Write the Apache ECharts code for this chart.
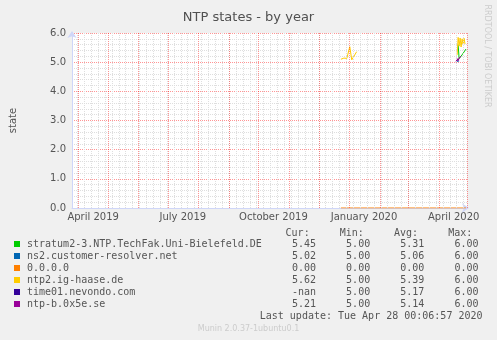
<!DOCTYPE html>
<html><head><meta charset="utf-8">
<script src="https://cdn.jsdelivr.net/npm/echarts@6/dist/echarts.min.js"></script>
<style>html,body{margin:0;padding:0;background:#f0f0f0;}#c{width:497px;height:340px;}</style>
</head><body><div id="c"></div>
<script>
// ---- data ----
const seriesNames = ['stratum2-3.NTP.TechFak.Uni-Bielefeld.DE','ns2.customer-resolver.net','0.0.0.0','ntp2.ig-haase.de','time01.nevondo.com','ntp-b.0x5e.se'];
const curValues = ['5.45','5.02','0.00','5.62','-nan','5.21'];
const minValues = ['5.00','5.00','0.00','5.00','5.00','5.00'];
const avgValues = ['5.31','5.06','0.00','5.39','5.17','5.14'];
const maxValues = ['6.00','6.00','0.00','6.00','6.00','6.00'];

const stratumData = [['2020-04-20',5.60],['2020-04-21',5.12],['2020-04-22',5.18],['2020-04-23',5.16],['2020-04-24',5.25],['2020-04-25',5.30],['2020-04-26',5.35],['2020-04-27',5.36],['2020-04-28',5.45]];
const ns2Data = [['2020-04-18',5.02],['2020-04-19',5.05],['2020-04-20',5.02],['2020-04-21',5.04]];
const zeroData = [['2019-12-23',0.00],['2020-04-28',0.00]];
const haaseData = [['2019-12-23',5.10],['2019-12-24',5.12],['2019-12-25',5.11],['2019-12-26',5.14],['2019-12-27',5.14],['2019-12-28',5.12],['2019-12-29',5.13],['2019-12-30',5.12],['2019-12-31',5.10],['2020-01-01',5.53],['2020-01-03',5.08],['2020-01-08',5.36],
  [null,null],
  ['2020-04-19',5.25],['2020-04-20',5.85],['2020-04-21',5.55],['2020-04-22',5.83],['2020-04-23',5.52],['2020-04-24',5.80],['2020-04-25',5.62],['2020-04-26',5.82],['2020-04-27',5.62]];
const nevondoData = [['2020-04-18',5.00],['2020-04-19',5.08],['2020-04-20',5.02],['2020-04-21',5.10]];
const ntpbData = [['2020-04-18',5.02],['2020-04-19',5.12],['2020-04-20',5.05],['2020-04-21',5.15],['2020-04-22',5.12],['2020-04-23',5.20]];

const xTickLabels = ['April 2019','July 2019','October 2019','January 2020','April 2020'];
const xTickDates = ['2019-04-16','2019-07-16','2019-10-16','2020-01-16','2020-04-16'];
const xStart = '2019-03-25', xEnd = '2020-04-29';
const lastUpdate = 'Last update: Tue Apr 28 00:06:57 2020';
const footer = 'Munin 2.0.37-1ubuntu0.1';
const watermark = 'RRDTOOL / TOBI OETIKER';
const title = 'NTP states - by year';
const yName = 'state';

// ---- helpers ----
function ts(s, h){ const p = s.split('-').map(Number); return Date.UTC(p[0], p[1]-1, p[2], h===undefined?12:h); }
function conv(arr){ return arr.map(d => d[0]===null ? [null,null] : [ts(d[0]), d[1]]); }
const DAY = 86400000;
const xMin = ts(xStart, 12), xMax = ts(xEnd, 12);
const xTickValues = xTickDates.map(d => ts(d, 0));

// month starts & weekly (Sunday) grid
const monthLines = [];
for (let y = 2019, m = 3; ; ) { const t = Date.UTC(y, m, 1); if (t > xMax) break; if (t >= xMin) monthLines.push(t); m++; if (m > 11) { m = 0; y++; } }
monthLines.push(xMax);
const weekLines = [];
for (let t = Date.UTC(2019, 2, 31); t <= xMax; t += 7*DAY) if (t >= xMin) weekLines.push(t);

const colors = ['#00CC00','#0066B3','#FF8000','#FFCC00','#330099','#990099'];
const datasets = [stratumData, ns2Data, zeroData, haaseData, nevondoData, ntpbData];

const MONO = 'DejaVu Sans Mono', SANS = 'DejaVu Sans';
const redGrid = 'rgba(255,0,0,0.42)', greyGrid = '#dedede';
const FS = 10;

function row(i){
  return seriesNames[i].padEnd(44) + curValues[i].padStart(4) + minValues[i].padStart(9) + avgValues[i].padStart(9) + maxValues[i].padStart(9);
}
const header = 'Cur:'.padStart(47) + 'Min:'.padStart(9) + 'Avg:'.padStart(9) + 'Max:'.padStart(9);

const series = [
  { type:'line', name:'_weeks', data:[], silent:true, z:1,
    markLine:{ symbol:'none', silent:true, animation:false, label:{show:false}, emphasis:{disabled:true},
      lineStyle:{color:greyGrid, type:[1,1], width:1}, data: weekLines.map(t=>({xAxis:t})) } },
  { type:'line', name:'_months', data:[], silent:true, z:1,
    markLine:{ symbol:'none', silent:true, animation:false, label:{show:false}, emphasis:{disabled:true},
      lineStyle:{color:redGrid, type:[1,1], width:1}, data: monthLines.map(t=>({xAxis:t})) } }
];
seriesNames.forEach((n, i) => series.push({
  type:'line', name:n, data: conv(datasets[i]), showSymbol:false, z:3,
  color: colors[i], lineStyle:{width:1, color:colors[i]}, connectNulls:false, animation:false
}));

const chart = echarts.init(document.getElementById('c'), null, {renderer:'canvas'});
chart.setOption({
  backgroundColor:'#F0F0F0',
  animation:false,
  title:{ text:title, left:'center', top:6, textStyle:{fontFamily:SANS, fontSize:13, fontWeight:'normal', color:'#505050'} },
  grid:{ left:66, top:33, width:401, height:175, show:true, backgroundColor:'#ffffff', borderWidth:0 },
  xAxis:{ type:'value', min:xMin, max:xMax,
    axisLine:{show:true, lineStyle:{color:'#CFD6F8', width:1}, symbol:['none','arrow'], symbolSize:[7,7], symbolOffset:[0,2]},
    axisTick:{show:false}, splitLine:{show:false},
    axisLabel:{ customValues:xTickValues, formatter:v => xTickLabels[xTickValues.indexOf(v)] || '', fontFamily:SANS, fontSize:10, color:'#555', margin:4 } },
  yAxis:{ type:'value', min:0, max:6, interval:1, name:yName, nameLocation:'middle', nameRotate:90, nameGap:54,
    nameTextStyle:{fontFamily:SANS, fontSize:10, color:'#555'},
    axisLine:{show:true, lineStyle:{color:'#CFD6F8', width:1}, symbol:['none','arrow'], symbolSize:[7,7], symbolOffset:[0,2]},
    axisTick:{show:false},
    axisLabel:{ formatter:v => v.toFixed(1), fontFamily:SANS, fontSize:10, color:'#555', margin:6 },
    splitLine:{show:true, lineStyle:{color:redGrid, type:[1,1], width:1}},
    minorTick:{show:false, splitNumber:5},
    minorSplitLine:{show:true, lineStyle:{color:greyGrid, type:[1,1], width:1}} },
  legend:{ data:seriesNames, orient:'vertical', left:9, top:233, itemWidth:6, itemHeight:6, itemGap:0, icon:'rect', selectedMode:false,
    formatter: name => row(seriesNames.indexOf(name)),
    textStyle:{fontFamily:MONO, fontSize:FS, color:'#555', lineHeight:12, padding:[0,0,0,2]} },
  graphic:[
    { type:'text', x:26.7, y:233, style:{ text:header, font:FS+'px "'+MONO+'"', fill:'#555', verticalAlign:'middle' } },
    { type:'text', x:482.5, y:316.7, style:{ text:lastUpdate, font:FS+'px "'+MONO+'"', fill:'#555', align:'right', verticalAlign:'middle' } },
    { type:'text', x:248.5, y:329, style:{ text:footer, font:'8px "'+SANS+'"', fill:'#cccccc', align:'center', verticalAlign:'middle' } },
    { type:'text', x:487, y:56, rotation:-Math.PI/2, style:{ text:watermark, font:'8px "'+SANS+'"', fill:'#cccccc', align:'center', verticalAlign:'middle' } }
  ],
  series: series
});
</script></body></html>
